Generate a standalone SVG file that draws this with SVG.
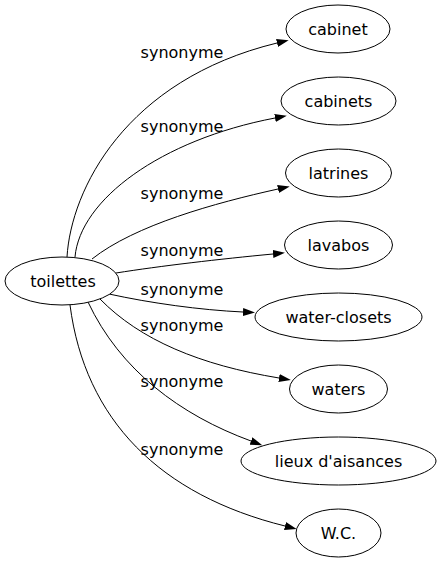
<svg xmlns="http://www.w3.org/2000/svg" width="441" height="563" viewBox="0 0 441 563">
<style>
.node ellipse{fill:#fff;stroke:#000;stroke-width:1}
text{font-family:"DejaVu Sans","Liberation Sans",sans-serif;font-size:16px;fill:#000}
.node text{text-anchor:middle}
.lbl{text-anchor:middle}
.edges path{fill:none;stroke:#000;stroke-width:1;marker-end:url(#arr)}
</style>
<defs>
<marker id="arr" markerUnits="userSpaceOnUse" viewBox="0 0 12 8" refX="0" refY="4" markerWidth="12" markerHeight="8" orient="auto">
<path d="M0,0 L12,4 L0,8 Z" fill="#000"/>
</marker>
</defs>
<rect width="441" height="563" fill="#fff"/>
<g class="edges" id="connectors">
<path d="M67,257 C71,190 125,80 277,43"/>
<path d="M75,257 C80,200 160,140 275,118"/>
<path d="M92,259 C135,225 215,203 278,189"/>
<path d="M116,273 C160,266 220,259 273,254"/>
<path d="M109,294 C150,303 200,310 243,312"/>
<path d="M100,299 C140,340 200,365 279,378"/>
<path d="M88,302 C120,370 180,415 251,441"/>
<path d="M70,305 C85,420 160,495 285,526"/>
<text class="lbl" x="182" y="58">synonyme</text>
<text class="lbl" x="182" y="132">synonyme</text>
<text class="lbl" x="182" y="199">synonyme</text>
<text class="lbl" x="182" y="256">synonyme</text>
<text class="lbl" x="182" y="295">synonyme</text>
<text class="lbl" x="182" y="331">synonyme</text>
<text class="lbl" x="182" y="387">synonyme</text>
<text class="lbl" x="182" y="455">synonyme</text>
</g>
<g class="node" id="toilettes"><ellipse cx="62" cy="281" rx="57" ry="24"/><text x="63" y="287">toilettes</text></g>
<g class="node" id="cabinet"><ellipse cx="338" cy="29" rx="52" ry="24"/><text x="338" y="35">cabinet</text></g>
<g class="node" id="cabinets"><ellipse cx="338.5" cy="101" rx="57.5" ry="24"/><text x="338.5" y="107">cabinets</text></g>
<g class="node" id="latrines"><ellipse cx="338.5" cy="173" rx="53" ry="24"/><text x="338.5" y="179">latrines</text></g>
<g class="node" id="lavabos"><ellipse cx="338.5" cy="245" rx="54" ry="24"/><text x="338.5" y="251">lavabos</text></g>
<g class="node" id="water-closets"><ellipse cx="338.5" cy="317" rx="83.5" ry="24"/><text x="338.5" y="323">water-closets</text></g>
<g class="node" id="waters"><ellipse cx="338.5" cy="389" rx="49" ry="24"/><text x="338.5" y="395">waters</text></g>
<g class="node" id="lieux"><ellipse cx="338.5" cy="461" rx="97.5" ry="24"/><text x="338.5" y="467">lieux d'aisances</text></g>
<g class="node" id="wc"><ellipse cx="338.5" cy="533" rx="42.5" ry="24"/><text x="338.5" y="539">W.C.</text></g>
</svg>
